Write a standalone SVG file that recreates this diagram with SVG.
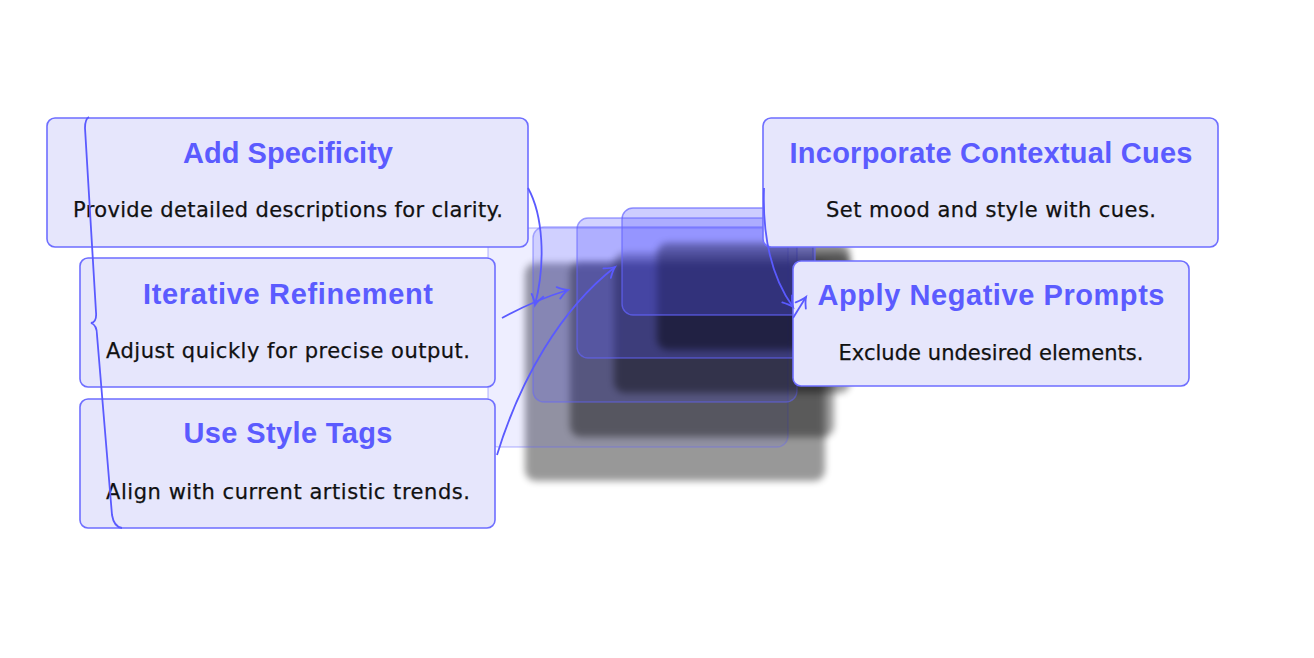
<svg xmlns="http://www.w3.org/2000/svg" width="1314" height="658" viewBox="0 0 1314 658">
  <defs>
    <filter id="blur" x="-20%" y="-20%" width="140%" height="140%">
      <feGaussianBlur stdDeviation="3.5"/>
    </filter>
    <marker id="arr" viewBox="-12 -8 16 16" markerWidth="16" markerHeight="16" refX="0" refY="0" orient="auto" markerUnits="userSpaceOnUse">
      <path d="M -10,-6 Q -4,-1.4 0,0 Q -4,1.4 -10,6" fill="none" stroke="#5a5aff" stroke-width="1.8" stroke-linecap="round"/>
    </marker>
  </defs>
  <style>
    .node rect { fill: #e6e6fc; stroke: #6e6eff; stroke-width: 1.6; }
    .title { font-family: "Liberation Sans", Arial, sans-serif; font-weight: bold; font-size: 29px; fill: #5b5bff; text-anchor: middle; }
    .body { font-family: "DejaVu Sans", "Liberation Sans", sans-serif; font-size: 21px; fill: #111; stroke: #111; stroke-width: 0.25; text-anchor: middle; }
    .shadow { fill: #000; filter: url(#blur); }
    .layer { stroke: #6464ff; stroke-width: 1.4; }
    .conn path { fill: none; stroke: #5a5aff; stroke-width: 1.8; }
  </style>
  <rect width="1314" height="658" fill="#ffffff"/>

  <g id="stack">
    <rect class="shadow" x="525" y="263" width="300" height="218" rx="11" opacity="0.4"/>
    <rect class="layer" x="488" y="228" width="300" height="219" rx="11" fill="#5a5aff" fill-opacity="0.1" stroke-opacity="0.35"/>
    <rect class="shadow" x="570" y="262" width="264" height="175" rx="11" opacity="0.4"/>
    <rect class="layer" x="533" y="227" width="264" height="175" rx="11" fill="#5a5aff" fill-opacity="0.2" stroke-opacity="0.5"/>
    <rect class="shadow" x="614" y="253" width="236" height="140" rx="11" opacity="0.4"/>
    <rect class="layer" x="577" y="218" width="236" height="140" rx="11" fill="#5a5aff" fill-opacity="0.27" stroke-opacity="0.6"/>
    <rect class="shadow" x="657" y="243" width="193" height="107" rx="11" opacity="0.45"/>
    <rect class="layer" x="622" y="208" width="193" height="107" rx="11" fill="#5a5aff" fill-opacity="0.3" stroke-opacity="0.7"/>
  </g>

  <g id="node-add-specificity" class="node">
    <rect x="47" y="118" width="481" height="129" rx="8"/>
    <text class="title" x="288" y="163" textLength="210">Add Specificity</text>
    <text class="body" x="288" y="217" textLength="430">Provide detailed descriptions for clarity.</text>
  </g>
  <g id="node-iterative-refinement" class="node">
    <rect x="80" y="258" width="415" height="129" rx="8"/>
    <text class="title" x="288" y="304" textLength="290">Iterative Refinement</text>
    <text class="body" x="288" y="358" textLength="364">Adjust quickly for precise output.</text>
  </g>
  <g id="node-use-style-tags" class="node">
    <rect x="80" y="399" width="415" height="129" rx="8"/>
    <text class="title" x="288" y="443" textLength="209">Use Style Tags</text>
    <text class="body" x="288" y="499" textLength="364">Align with current artistic trends.</text>
  </g>
  <g id="node-incorporate-contextual-cues" class="node">
    <rect x="763" y="118" width="455" height="129" rx="8"/>
    <text class="title" x="991" y="163" textLength="403">Incorporate Contextual Cues</text>
    <text class="body" x="991" y="217" textLength="330">Set mood and style with cues.</text>
  </g>
  <g id="node-apply-negative-prompts" class="node">
    <rect x="793" y="261" width="396" height="125" rx="8"/>
    <text class="title" x="991" y="305" textLength="347">Apply Negative Prompts</text>
    <text class="body" x="991" y="360" textLength="305">Exclude undesired elements.</text>
  </g>

  <g id="connectors" class="conn">
    <path d="M 89,117 Q 85,119 85,128 L 96,312 Q 97,322 91,323 Q 97,325 97,335 L 112,515 Q 114,527 122,528"/>
    <path d="M 528,188 C 543,215 546,262 535,305" marker-end="url(#arr)"/>
    <path d="M 502,318 Q 535,300 568,290" marker-end="url(#arr)"/>
    <path d="M 497,455 C 520,380 560,310 615,267" marker-end="url(#arr)"/>
    <path d="M 764,188 C 762,245 775,282 793,307" marker-end="url(#arr)"/>
    <path d="M 793,318 L 806,297" marker-end="url(#arr)"/>
  </g>
</svg>
